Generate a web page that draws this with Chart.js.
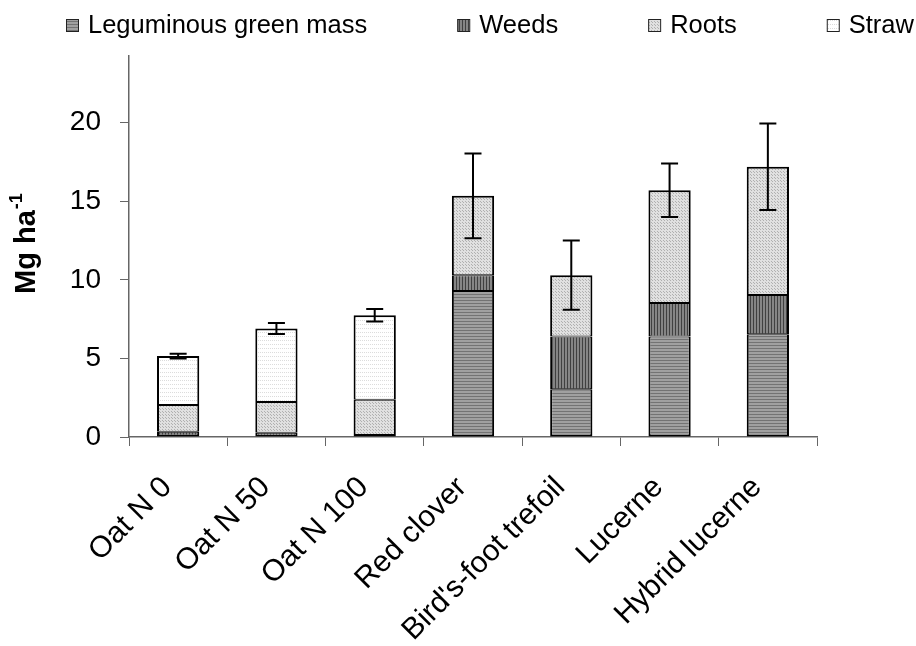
<!DOCTYPE html>
<html>
<head>
<meta charset="utf-8">
<title>Biomass by crop</title>
<script src="https://cdn.jsdelivr.net/npm/chart.js@4/dist/chart.umd.min.js"></script>
<style>
  body { margin: 0; background: #fff; }
  canvas { display: block; }
</style>
</head>
<body>
<canvas id="chart" width="916" height="646"></canvas>
<script>
// data (Mg ha-1)
const categories = ["Oat N 0", "Oat N 50", "Oat N 100", "Red clover", "Bird's-foot trefoil", "Lucerne", "Hybrid lucerne"];
const seriesNames = ["Leguminous green mass", "Weeds", "Roots", "Straw"];
const legumeMass = [0, 0, 0, 9.3, 3.04, 6.39, 6.54];
const weeds = [0.34, 0.27, 0.13, 1.0, 3.35, 2.14, 2.5];
const roots = [1.7, 1.96, 2.24, 5.05, 3.91, 7.17, 8.16];
const straw = [3.11, 4.67, 5.38, 0, 0, 0, 0];
const errors = [0.15, 0.35, 0.4, 2.7, 2.2, 1.7, 2.75];
const yTicks = [0, 5, 10, 15, 20];

const seriesValues = [legumeMass, weeds, roots, straw];
const FONT = "'Liberation Sans', Arial, sans-serif";

// hatch patterns like the old excel fills
function makePattern(size, draw) {
  const c = document.createElement("canvas");
  c.width = size;
  c.height = size;
  draw(c.getContext("2d"));
  return c.getContext("2d").createPattern(c, "repeat");
}

const legumeFill = makePattern(3, g => {
  g.fillStyle = "#a0a0a0"; g.fillRect(0, 0, 3, 3);
  g.fillStyle = "#737373"; g.fillRect(0, 0, 3, 1);
});
const weedsFill = makePattern(3, g => {
  g.fillStyle = "#858585"; g.fillRect(0, 0, 3, 3);
  g.fillStyle = "#404040"; g.fillRect(0, 0, 1, 3);
});
const rootsFill = makePattern(3, g => {
  g.fillStyle = "#e0e0e0"; g.fillRect(0, 0, 3, 3);
  g.fillStyle = "#b0b0b0"; g.fillRect(0, 0, 1, 1); g.fillRect(1, 1, 1, 1);
});
const strawFill = makePattern(4, g => {
  g.fillStyle = "#ffffff"; g.fillRect(0, 0, 4, 4);
  g.fillStyle = "#dcdcdc"; g.fillRect(0, 0, 1, 1); g.fillRect(2, 0, 1, 1);
});
const fills = [legumeFill, weedsFill, rootsFill, strawFill];

const totals = categories.map((c, i) => legumeMass[i] + weeds[i] + roots[i] + straw[i]);

// first and last non-empty segment of each stack get the full border
function topSeries(i) {
  let top = 0;
  seriesValues.forEach((vals, s) => { if (vals[i] > 0) top = s; });
  return top;
}
function bottomSeries(i) {
  return seriesValues.findIndex(vals => vals[i] > 0);
}

// error bars on top of the stacks
const errorBars = {
  id: "errorBars",
  afterDatasetsDraw(chart) {
    const ctx = chart.ctx;
    const x = chart.scales.x;
    const y = chart.scales.y;
    ctx.save();
    ctx.strokeStyle = "#000";
    ctx.lineWidth = 2;
    totals.forEach((t, i) => {
      const px = x.getPixelForValue(i);
      const hi = y.getPixelForValue(t + errors[i]);
      const lo = y.getPixelForValue(t - errors[i]);
      ctx.beginPath();
      ctx.moveTo(px, hi); ctx.lineTo(px, lo);
      ctx.moveTo(px - 8.5, hi); ctx.lineTo(px + 8.5, hi);
      ctx.moveTo(px - 8.5, lo); ctx.lineTo(px + 8.5, lo);
      ctx.stroke();
    });
    ctx.restore();
  }
};

// y title with superscript
const yTitle = {
  id: "yTitle",
  afterDraw(chart) {
    const ctx = chart.ctx;
    ctx.save();
    ctx.translate(35, 294);
    ctx.rotate(-Math.PI / 2);
    ctx.fillStyle = "#000";
    ctx.textBaseline = "alphabetic";
    ctx.font = "bold 29px " + FONT;
    ctx.fillText("Mg ha", 0, 0);
    const w = ctx.measureText("Mg ha").width;
    ctx.font = "bold 18px " + FONT;
    ctx.fillText("-1", w + 1, -13);
    ctx.restore();
  }
};

// legend row across the top, wide gaps like the original
const topLegend = {
  id: "topLegend",
  afterDraw(chart) {
    const ctx = chart.ctx;
    ctx.save();
    ctx.font = "25.5px " + FONT;
    ctx.textBaseline = "middle";
    let x = 66;
    const cy = 25;
    seriesNames.forEach((name, i) => {
      ctx.fillStyle = fills[i];
      ctx.fillRect(x, cy - 6, 12, 12);
      ctx.strokeStyle = "#222";
      ctx.lineWidth = 1;
      ctx.strokeRect(x + 0.5, cy - 5.5, 12, 12);
      ctx.fillStyle = "#000";
      ctx.fillText(name, x + 22, cy + 1);
      x += 22 + ctx.measureText(name).width + 90;
    });
    ctx.restore();
  }
};

const datasets = seriesValues.map((vals, s) => ({
  label: seriesNames[s],
  data: vals,
  backgroundColor: fills[s],
  borderColor: "#000",
  borderWidth: c => ({
    left: 2,
    right: 2,
    bottom: bottomSeries(c.dataIndex) === s ? 2 : 1,
    top: topSeries(c.dataIndex) === s ? 2 : 1
  }),
  borderSkipped: false,
  barPercentage: 0.43,
  categoryPercentage: 1
}));

const ctx = document.getElementById("chart").getContext("2d");
new Chart(ctx, {
  type: "bar",
  data: { labels: categories, datasets: datasets },
  options: {
    responsive: false,
    animation: false,
    layout: { padding: { top: 56, right: 99, left: 0, bottom: 0 } },
    plugins: {
      legend: { display: false },
      tooltip: { enabled: false }
    },
    scales: {
      x: {
        stacked: true,
        afterFit(scale) { scale.height = 209; },
        border: { color: "#666", width: 1.5 },
        grid: { drawOnChartArea: false, color: "#666", tickLength: 9, offset: true },
        ticks: {
          color: "#000",
          font: { family: FONT, size: 30 },
          maxRotation: 45,
          minRotation: 45,
          labelOffset: -11,
          padding: 24
        }
      },
      y: {
        stacked: true,
        min: 0,
        max: 24.25,
        afterFit(scale) { scale.width = 129; },
        afterBuildTicks(scale) { scale.ticks = yTicks.map(v => ({ value: v })); },
        border: { color: "#666", width: 1.5 },
        grid: { drawOnChartArea: false, color: "#666", tickLength: 9 },
        ticks: {
          color: "#000",
          font: { family: FONT, size: 28 },
          padding: 19
        }
      }
    }
  },
  plugins: [errorBars, yTitle, topLegend]
});
</script>
</body>
</html>
